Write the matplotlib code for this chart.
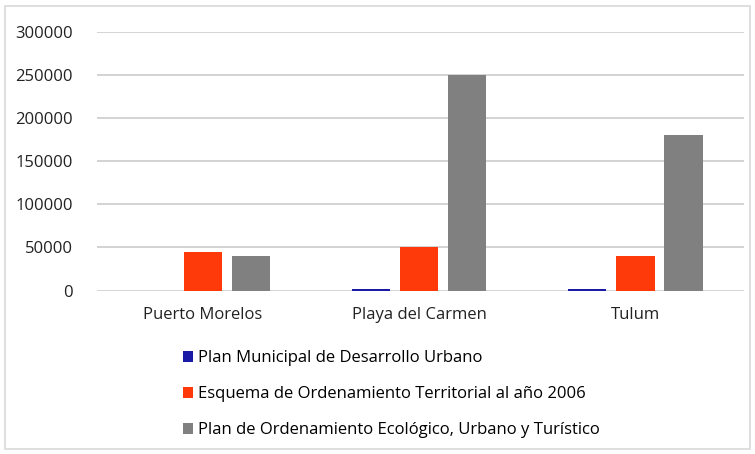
import numpy as np
import matplotlib.pyplot as plt
from matplotlib.patches import Rectangle

plt.rcParams['font.family'] = ['Open Sans', 'DejaVu Sans']

# datos por municipio
municipios = ['Puerto Morelos', 'Playa del Carmen', 'Tulum']
plan_municipal = [0, 1500, 1500]
esquema_2006 = [45000, 50000, 40000]
plan_ecologico = [40000, 250000, 180000]
series = ['Plan Municipal de Desarrollo Urbano',
          'Esquema de Ordenamiento Territorial al año 2006',
          'Plan de Ordenamiento Ecológico, Urbano y Turístico']
colores = ['#1a1aa6', '#ff3a0a', '#808080']

fig = plt.figure(figsize=(7.55, 4.54), dpi=100)
ax = fig.add_axes([0.128, 0.36, 0.857, 0.57])

x = np.arange(len(municipios))
w = 0.176
off = 0.222
for i, (vals, lab, c) in enumerate(zip([plan_municipal, esquema_2006, plan_ecologico], series, colores)):
    ax.bar(x + (i - 1) * off, vals, width=w, color=c, label=lab, zorder=3)

ax.set_xlim(-0.49, 2.5)
ax.set_ylim(0, 300000)
ax.set_yticks(np.arange(0, 300001, 50000))
ax.yaxis.grid(True, color='#cccccc', linewidth=1.2)
ax.set_axisbelow(True)
for s in ax.spines.values():
    s.set_visible(False)
ax.tick_params(axis='both', length=0, labelsize=12, colors='#222222')
ax.tick_params(axis='y', pad=17)
ax.tick_params(axis='x', pad=12)
ax.set_xticks(x)
ax.set_xticklabels(municipios)

leg = fig.legend(loc='upper left', bbox_to_anchor=(0.222, 0.262), frameon=False,
                 fontsize=12, handlelength=0.65, handleheight=0.65, handletextpad=0.3,
                 labelspacing=1.2)

# marco exterior
fig.patches.append(Rectangle((0.006, 0.012), 0.988, 0.974, transform=fig.transFigure,
                             fill=False, edgecolor='#d9d9d9', linewidth=1.2))

plt.savefig('out.png', dpi=100)
